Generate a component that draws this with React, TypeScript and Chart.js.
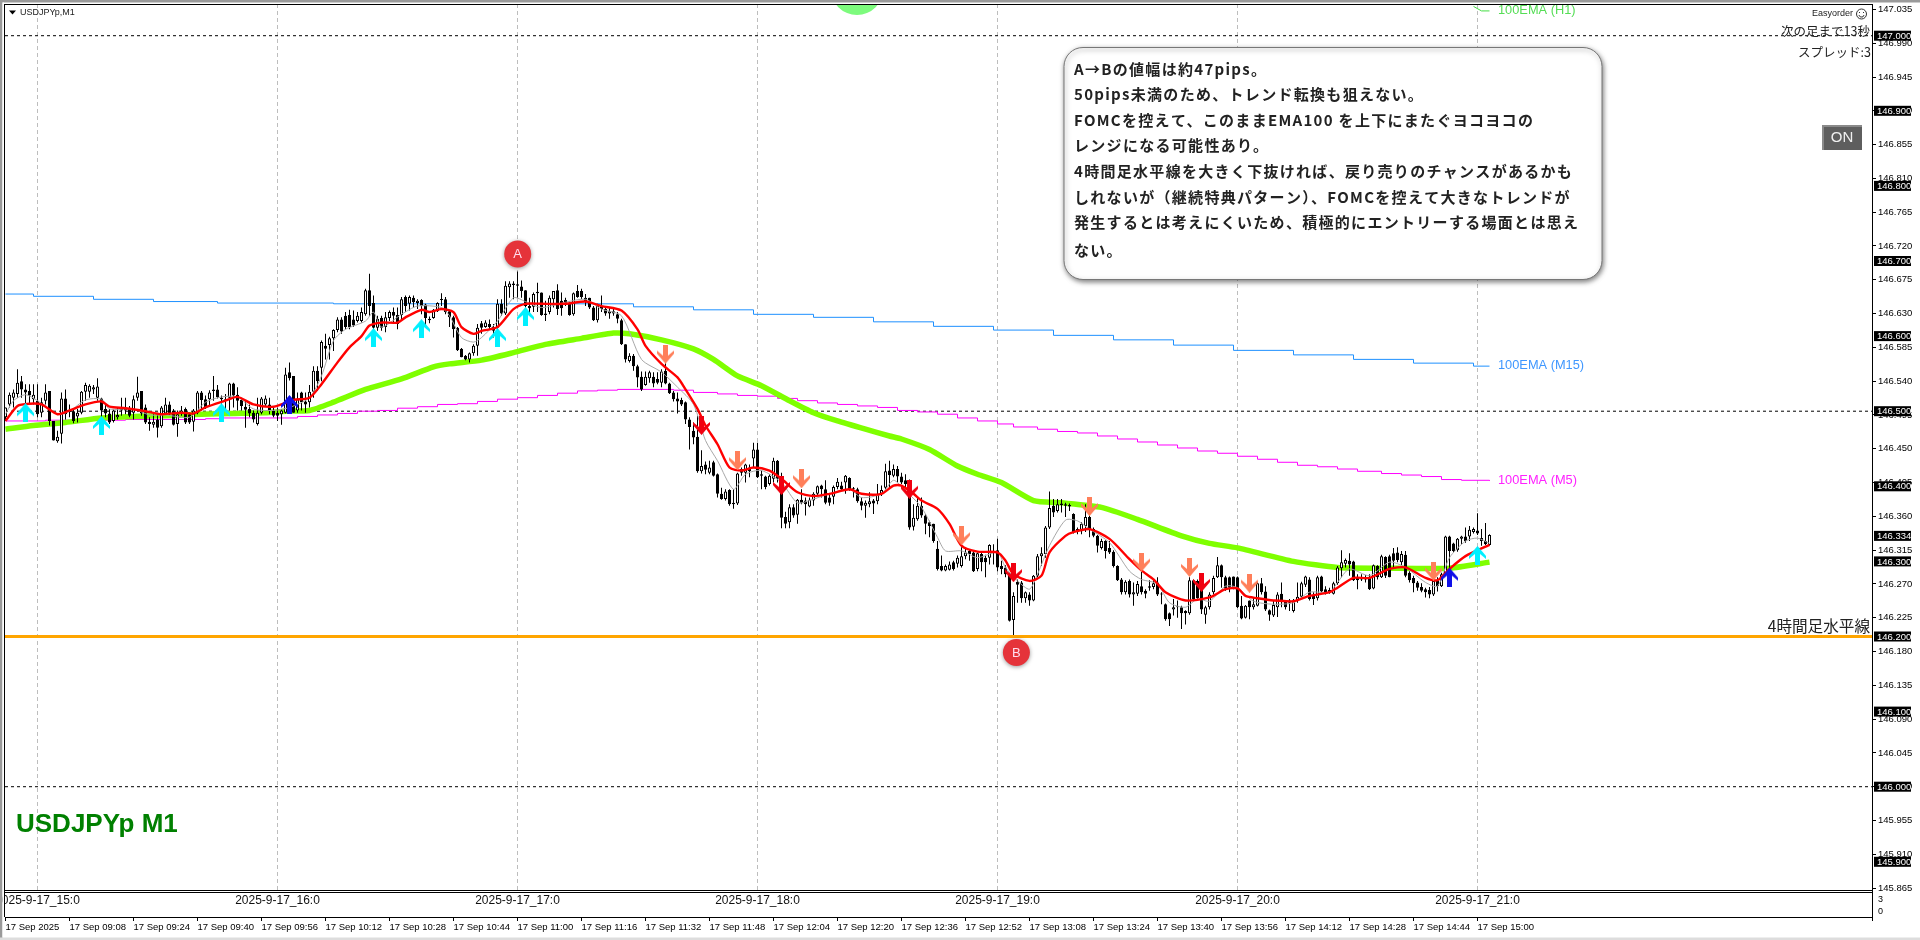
import React, { useEffect, useRef } from "react";
import { Chart, registerables } from "chart.js";

Chart.register(...registerables);

// All candle and line values are thousandths of a yen above 146.000
const BASE = 146;
const opens = [
492,509,518,523,540,529,527,516,514,498,514,527,487,460,470,517,499,500,493,498,
526,526,529,518,517,503,497,487,492,501,505,503,498,518,527,505,486,482,489,480,
497,509,501,483,497,503,496,486,498,525,516,516,527,529,516,516,518,537,522,515,
506,503,498,483,498,509,509,501,498,496,498,552,547,501,525,513,512,526,554,558,
587,588,597,608,622,627,628,622,620,620,629,661,644,611,624,612,624,632,628,628,
652,643,651,644,648,642,621,624,633,648,649,633,625,611,583,574,569,577,587,617,
612,616,612,611,643,630,665,668,669,666,661,640,639,657,658,630,632,649,661,647,
648,643,629,660,660,651,651,638,621,639,636,630,633,629,621,589,567,574,560,546,
535,544,546,543,538,554,537,525,517,515,512,489,474,466,420,429,418,432,416,390,
383,395,378,377,423,418,425,437,449,416,413,403,410,434,413,359,352,372,362,382,
381,373,381,390,401,396,385,386,399,401,405,411,397,396,380,374,376,381,380,390,
398,421,414,423,413,408,407,346,356,374,361,352,350,317,294,288,289,299,297,294,
307,314,312,290,310,305,305,314,315,294,292,283,222,273,272,251,256,248,281,307,
310,345,374,367,377,376,375,363,343,340,347,359,343,334,318,327,318,313,294,276,
259,274,256,257,267,261,265,266,272,257,243,231,236,240,239,234,231,275,274,272,
229,239,259,279,295,279,279,280,279,241,225,248,239,241,271,260,235,228,239,257,
247,248,234,248,253,269,276,256,251,280,263,262,257,271,291,297,301,300,279,276,
279,279,264,294,279,306,307,311,312,299,309,285,278,272,266,263,262,256,275,267,
282,333,324,315,330,333,333,339,341,331,327,322];
const closes = [
505,522,525,538,529,525,521,522,496,512,525,487,461,466,517,496,501,487,498,526,
535,534,532,533,501,497,485,501,495,503,501,494,516,525,497,485,483,486,478,505,
509,497,482,496,501,485,485,501,525,515,505,525,529,519,518,514,537,521,514,507,
502,497,489,498,517,517,500,494,494,501,549,544,498,516,512,509,526,554,540,592,
583,597,608,622,606,612,612,614,627,632,661,640,611,623,611,625,632,627,616,649,
640,652,645,647,640,624,623,635,644,649,632,625,609,581,572,569,577,587,611,611,
618,612,607,643,630,667,670,670,667,660,640,637,656,659,628,628,651,660,636,637,
642,628,657,652,652,646,638,621,640,636,630,633,630,623,589,569,574,560,545,529,
546,552,537,538,553,537,524,516,513,509,489,479,465,420,427,422,425,414,390,383,
393,376,376,417,418,429,420,449,412,414,399,414,434,410,358,350,372,361,382,378,
376,382,390,400,396,378,378,399,406,396,414,396,396,380,374,378,380,377,390,395,
420,415,423,413,405,403,345,358,374,361,350,347,327,290,288,294,296,290,305,307,
312,310,287,311,299,299,322,312,292,290,283,221,254,269,251,259,248,281,307,311,
345,371,365,376,375,374,373,339,339,350,359,343,334,321,327,314,312,294,275,259,
273,256,259,270,259,257,267,271,256,256,223,223,239,239,231,231,275,250,251,236,
239,256,278,295,279,264,265,264,239,224,241,239,243,271,259,236,229,242,256,248,
239,245,248,253,271,280,250,250,279,260,259,259,271,292,299,302,296,275,275,279,
276,263,295,279,307,281,279,301,302,310,281,275,271,265,261,259,256,274,267,283,
333,314,314,330,333,327,342,343,337,327,323,335];
const highs = [
505,525,529,556,547,536,536,536,536,518,536,527,487,474,525,529,509,503,503,527,
538,536,535,544,518,509,503,503,505,518,518,507,521,546,527,509,492,496,498,507,
518,513,503,501,507,505,498,503,527,527,521,528,547,535,521,523,538,538,532,518,
514,509,501,518,519,521,518,507,505,503,558,565,547,525,526,525,535,560,560,594,
603,599,609,625,625,632,635,634,632,638,663,683,654,627,627,632,634,638,638,652,
654,654,654,649,649,643,626,636,645,657,652,635,627,612,584,575,578,589,616,620,
621,622,616,649,649,673,673,673,686,674,661,651,658,671,658,647,654,660,669,658,
651,645,658,668,663,656,651,640,643,654,640,638,636,632,623,589,577,576,562,553,
553,554,552,552,556,565,538,527,525,518,513,492,485,494,448,433,434,434,417,398,
396,396,396,418,425,430,429,458,458,421,414,416,438,435,418,366,376,376,383,396,
385,385,392,401,402,408,390,401,411,406,415,412,399,398,385,381,392,383,403,401,
430,434,429,427,418,416,409,376,385,385,363,354,350,327,308,296,300,301,308,319,
318,316,314,312,314,309,323,323,330,301,295,284,259,276,274,260,259,282,310,319,
347,393,383,383,383,378,377,364,345,352,376,361,345,335,330,328,327,315,295,278,
275,276,272,274,288,263,275,276,279,259,244,232,250,248,241,235,279,276,276,274,
241,259,281,306,296,281,280,280,280,254,242,248,252,273,278,267,236,248,259,272,
248,250,250,272,273,281,279,259,281,281,267,265,273,294,315,304,311,301,283,283,
282,283,296,295,309,307,309,318,319,314,314,287,281,274,271,265,266,276,279,285,
334,334,325,331,334,345,347,345,364,343,351,336];
const lows = [
487,505,505,518,518,505,509,509,492,492,509,481,461,458,457,489,492,484,485,496,
514,518,523,514,492,492,483,485,489,494,496,492,489,514,494,483,474,478,465,478,
496,494,481,466,494,483,483,473,496,501,503,507,514,517,503,503,501,505,501,501,
478,492,485,481,496,507,496,492,487,482,497,541,498,498,501,498,505,518,527,540,
569,569,580,605,603,609,609,612,618,618,627,627,609,607,607,605,620,618,609,621,
632,634,638,636,629,611,617,623,632,640,629,612,598,580,572,568,565,574,574,603,
611,609,598,598,627,628,651,649,651,651,638,629,632,632,627,620,629,638,628,627,
640,627,627,651,649,640,636,620,618,632,627,623,627,617,588,565,565,554,532,527,
534,538,532,536,532,536,523,513,497,507,483,449,456,418,417,416,416,413,385,382,
381,374,370,375,414,405,412,425,411,396,396,401,405,405,344,344,344,358,350,376,
361,372,374,387,385,376,374,376,396,394,390,394,385,378,368,358,372,363,376,387,
395,398,412,405,403,396,342,341,354,358,336,332,325,288,287,287,288,288,292,292,
303,301,286,287,287,279,296,296,287,283,279,220,202,245,245,245,241,247,279,294,
305,343,359,365,365,359,367,337,336,336,339,332,332,312,316,304,310,292,274,256,
256,252,241,254,256,251,261,263,254,243,221,214,228,225,210,216,229,248,248,230,
217,236,256,278,265,261,259,263,238,223,224,223,236,240,256,234,221,226,226,239,
236,234,232,245,252,266,248,242,248,259,256,257,256,269,279,292,281,274,263,274,
272,262,263,276,278,278,279,292,299,295,279,272,259,261,259,252,251,254,260,266,
281,290,312,313,323,325,327,337,335,321,322,321];

const ema1Bars = [0,7,15,24,32,40,49,57,65,70,76,82,90,99,107,111,119,127,135,144,152,156,164,172,177,183,189,196,202,208,215,221,224,231,238,243,249,257,264,274,283,294,301,308,322,333,346,361,371];
const ema1Vals = [476,481,485,491,493,494,496,497,498,500,501,512,529,543,559,563,568,578,589,597,604,603,595,583,569,547,534,514,498,487,476,467,463,449,427,416,405,381,378,372,356,334,324,318,300,292,291,291,299];

const m15Bars = [0,7,22,37,53,82,157,172,187,202,217,232,247,262,277,292,307,322,337,352,367,371];
const m15Vals = [656,653,649,646,644,643,639,635,629,625,619,613,608,601,595,588,581,575,569,564,560,560];

const m5Bars = [0,10,30,50,54,73,78,83,88,93,98,103,108,113,118,123,128,133,138,143,148,153,167,172,178,183,188,193,198,203,208,213,218,223,228,233,238,243,248,252,258,263,268,273,278,283,288,293,298,303,308,313,318,323,328,333,338,344,349,354,359,364,371];
const m5Vals = [487,488,489,490,491,493,495,497,500,501,504,506,509,510,513,516,518,521,524,527,528,529,528,525,523,521,520,517,514,511,509,507,505,501,499,496,491,487,483,479,476,473,471,467,463,459,455,451,447,444,440,436,432,428,426,423,420,417,415,413,409,408,407];

const h1Bars = [367,369,371];
const h1Vals = [1039,1033,1033];

const redBars = [0,3,6,9,13,16,20,24,26,30,35,39,44,47,50,55,58,62,67,72,76,79,83,86,89,91,94,98,100,104,106,109,112,114,117,119,123,127,130,134,140,145,149,154,158,160,164,168,170,173,175,178,181,184,187,191,194,198,202,206,211,214,219,222,224,227,229,233,236,239,243,248,250,252,256,259,261,265,267,271,276,281,284,287,290,295,301,305,308,310,313,317,322,326,331,333,337,341,346,350,355,358,361,365,371];
const redVals = [487,507,510,509,496,501,509,513,506,504,500,496,498,497,505,514,519,509,506,515,518,536,565,585,600,614,618,618,625,635,632,636,632,612,603,607,612,636,643,643,643,646,640,634,609,587,563,545,529,503,481,456,425,421,425,421,410,392,387,390,396,390,390,401,401,390,381,370,350,321,313,312,301,283,274,281,312,334,339,343,330,303,288,276,259,248,252,263,264,254,251,248,247,254,259,265,278,278,290,292,278,275,290,307,322];

const grayBars = [0,2,5,8,13,16,20,24,26,32,36,40,46,50,54,58,62,67,71,76,79,82,85,90,92,94,99,103,109,111,114,117,119,123,127,130,134,140,145,149,154,159,164,168,172,175,178,182,185,189,194,198,202,206,211,214,219,222,225,229,233,235,239,243,248,250,253,256,258,261,265,268,271,276,281,284,288,291,295,298,301,305,308,312,317,322,326,331,333,336,341,346,350,355,358,361,365,368,371];
const grayVals = [496,514,522,514,496,500,515,516,503,503,495,495,492,512,519,519,503,501,505,518,547,594,609,620,632,612,629,640,638,627,598,592,598,620,651,646,638,645,649,636,627,569,552,532,509,461,434,396,416,421,405,378,383,390,396,385,390,408,394,372,332,314,314,305,312,292,274,263,283,321,355,354,343,325,287,276,270,245,239,250,247,267,265,247,243,245,259,259,272,290,281,299,292,272,267,305,327,331,324];

const cyanBars = [5,24,54,92,104,123,130,368];
const cyanVals = [498,481,498,598,610,598,626,308];
const blueBars = [71,361];
const blueVals = [509,279];
const coralBars = [165,183,199,239,271,284,296,311,357];
const coralVals = [576,434,410,334,373,299,292,271,287];
const redArrowBars = [174,194,226,252,299];
const redArrowVals = [481,401,396,285,272];

const levelLines = [147, 146.5, 146];
const fourHourLevel = 146.2;

const yTicks = [147.035,146.99,146.945,146.9,146.855,146.81,146.765,146.72,146.675,146.63,146.585,146.54,146.495,146.45,146.405,146.36,146.315,146.27,146.225,146.18,146.135,146.09,146.045,146,145.955,145.91,145.865];
const boxedPrices = [147,146.9,146.8,146.7,146.6,146.5,146.4,146.334,146.3,146.2,146.1,146,145.9];

const hourBars = [8,68,128,188,248,308,368];
const hourLabels = ["2025-9-17_15:0","2025-9-17_16:0","2025-9-17_17:0","2025-9-17_18:0","2025-9-17_19:0","2025-9-17_20:0","2025-9-17_21:0"];
const dateBars = [0,16,32,48,64,80,96,112,128,144,160,176,192,208,224,240,256,272,288,304,320,336,352,368];
const dateLabels = ["17 Sep 2025","17 Sep 09:08","17 Sep 09:24","17 Sep 09:40","17 Sep 09:56","17 Sep 10:12","17 Sep 10:28","17 Sep 10:44","17 Sep 11:00","17 Sep 11:16","17 Sep 11:32","17 Sep 11:48","17 Sep 12:04","17 Sep 12:20","17 Sep 12:36","17 Sep 12:52","17 Sep 13:08","17 Sep 13:24","17 Sep 13:40","17 Sep 13:56","17 Sep 14:12","17 Sep 14:28","17 Sep 14:44","17 Sep 15:00"];

const noteLines = ["A→Bの値幅は約47pips。","50pips未満のため、トレンド転換も狙えない。","FOMCを控えて、このままEMA100 を上下にまたぐヨコヨコの","レンジになる可能性あり。","4時間足水平線を大きく下抜ければ、戻り売りのチャンスがあるかも","しれないが（継続特典パターン）、FOMCを控えて大きなトレンドが","発生するとは考えにくいため、積極的にエントリーする場面とは思え","ない。"];
const noteLineY = [69.5,94,120,145.5,171.5,197,222.5,250];

const price = (v: number) => BASE + v / 1000;
const pts = (xs: number[], ys: number[]) => xs.map((x, i) => ({ x, y: price(ys[i]) }));

function arrow(color: string, up: boolean) {
  const c = document.createElement("canvas");
  c.width = 17;
  c.height = 19;
  const g = c.getContext("2d")!;
  if (!up) { g.translate(0, 19); g.scale(1, -1); }
  g.fillStyle = color;
  g.beginPath();
  [[8.5,0],[17,10],[17,13],[11,8],[11,19],[6,19],[6,8],[0,13],[0,10]].forEach(([x,y],i)=> i ? g.lineTo(x,y) : g.moveTo(x,y));
  g.closePath();
  g.fill();
  return c;
}

const SANS = '"Liberation Sans", sans-serif';
const JP = '"Noto Sans CJK JP", sans-serif';

const overlay = {
  id: "overlay",
  beforeDraw(chart: any) {
    const { ctx } = chart;
    ctx.save();
    ctx.fillStyle = "#fff";
    ctx.fillRect(0, 0, 1920, 940);
    ctx.restore();
  },
  afterDraw(chart: any) {
    const { ctx, scales } = chart;
    const y = scales.y;
    const text = (s: string, x: number, yy: number, font: string, color: string, align: CanvasTextAlign = "left") => {
      ctx.font = font; ctx.fillStyle = color; ctx.textAlign = align; ctx.textBaseline = "middle";
      ctx.fillText(s, x, yy);
    };
    ctx.save();
    // green half disc at the top edge
    ctx.save();
    ctx.beginPath(); ctx.rect(5, 4, 1867, 40); ctx.clip();
    ctx.fillStyle = "#7dfb7d";
    ctx.beginPath(); ctx.arc(857, -11, 26, 0, Math.PI * 2); ctx.fill();
    ctx.restore();

    // note box
    ctx.save();
    ctx.shadowColor = "rgba(0,0,0,0.5)"; ctx.shadowBlur = 5; ctx.shadowOffsetX = 1; ctx.shadowOffsetY = 2;
    ctx.fillStyle = "#fff"; ctx.strokeStyle = "#777"; ctx.lineWidth = 1;
    ctx.beginPath(); ctx.roundRect(1064, 47.5, 538, 232, 19); ctx.fill(); ctx.stroke();
    ctx.restore();
    ctx.letterSpacing = "1.3px";
    noteLines.forEach((s, i) => text(s, 1074, noteLineY[i], `bold 15px ${JP}`, "#222"));
    ctx.letterSpacing = "0px";

    // A / B badges
    const badge = (s: string, cx: number, cy: number) => {
      ctx.save();
      ctx.shadowColor = "rgba(0,0,0,0.4)"; ctx.shadowBlur = 4; ctx.shadowOffsetY = 1;
      ctx.fillStyle = "#e5333a";
      ctx.beginPath(); ctx.arc(cx, cy, 13.5, 0, Math.PI * 2); ctx.fill();
      ctx.restore();
      text(s, cx, cy + 0.5, `13px ${SANS}`, "#fde", "center");
    };
    badge("A", 517.7, 254);
    badge("B", 1016.4, 652.5);

    // line labels
    text("100EMA (H1)", 1498, 10, `12.8px ${SANS}`, "#55dd55");
    text("100EMA (M15)", 1498, 365.5, `12.8px ${SANS}`, "#3f97ff");
    text("100EMA (M5)", 1498, 480, `12.8px ${SANS}`, "#ff22ff");

    text("USDJPYp M1", 16, 825, `bold 26px ${SANS}`, "#008000");
    text("4時間足水平線", 1870, 626.5, `15.6px ${JP}`, "#222", "right");

    // header texts
    ctx.fillStyle = "#000";
    ctx.beginPath(); ctx.moveTo(9, 10.5); ctx.lineTo(16, 10.5); ctx.lineTo(12.5, 14.5); ctx.closePath(); ctx.fill();
    text("USDJPYp,M1", 20, 12.5, `9px ${SANS}`, "#222");
    text("Easyorder", 1853, 14, `9px ${SANS}`, "#222", "right");
    ctx.strokeStyle = "#333"; ctx.lineWidth = 1;
    ctx.beginPath(); ctx.arc(1861.5, 14, 5, 0, Math.PI * 2); ctx.stroke();
    ctx.beginPath(); ctx.arc(1861.5, 14.5, 2.6, 0.2, Math.PI - 0.2); ctx.stroke();
    ctx.fillStyle = "#333"; ctx.fillRect(1859, 12, 1, 1); ctx.fillRect(1863, 12, 1, 1);
    text("次の足まで13秒", 1870, 31, `12.5px ${JP}`, "#222", "right");
    text("スプレッド:3", 1871, 52, `12.5px ${JP}`, "#222", "right");

    // ON button
    ctx.fillStyle = "#5e5e5e"; ctx.fillRect(1822, 125, 40, 25);
    ctx.fillStyle = "#8a8a8a"; ctx.fillRect(1822, 125, 40, 2); ctx.fillRect(1822, 125, 2, 25);
    text("ON", 1842, 138, `15px ${SANS}`, "#f0f0f0", "center");

    // boxed price labels
    boxedPrices.forEach((p) => {
      const py = y.getPixelForValue(p);
      ctx.fillStyle = "#000"; ctx.fillRect(1874, py - 5, 37, 10);
      text(p.toFixed(3), 1877, py + 0.5, `9.5px ${SANS}`, "#fff");
    });

    // frame and window chrome
    ctx.fillStyle = "#000";
    ctx.fillRect(4, 4, 1868, 1);
    ctx.fillRect(4, 4, 1, 913);
    ctx.fillRect(1872, 4, 1, 917);
    ctx.fillRect(4, 892, 1868, 1);
    ctx.fillStyle = "#9a9a9a";
    ctx.fillRect(0, 0, 1920, 2.5);
    ctx.fillRect(0, 0, 2.5, 940);
    ctx.fillStyle = "#fff";
    ctx.fillRect(2.5, 2.5, 1.5, 935);
    ctx.fillStyle = "#ddd";
    ctx.fillRect(0, 937.5, 1920, 2.5);
    text("3", 1878, 900, `9px ${SANS}`, "#000");
    text("0", 1878, 912, `9px ${SANS}`, "#000");
    ctx.restore();
  },
};

const zeroPadding = (s: any) => { s.paddingLeft = 0; s.paddingRight = 0; s.paddingTop = 0; s.paddingBottom = 0; };

export default function App() {
  const ref = useRef<HTMLCanvasElement>(null);
  useEffect(() => {
    const bars = opens.map((_, i) => i);
    const lineBase = { type: "line" as const, pointRadius: 0, fill: false, xAxisID: "x", yAxisID: "y" };
    const marks = (data: any, style: any, order: number) => ({
      ...lineBase, data, showLine: false, pointStyle: style, pointRadius: 9, order,
    });
    const chart = new Chart(ref.current!, {
      type: "bar",
      data: {
        datasets: [
          marks(pts(cyanBars, cyanVals), arrow("#00f0ff", true), 0),
          marks(pts(blueBars, blueVals), arrow("#1010e8", true), 0),
          marks(pts(coralBars, coralVals), arrow("#ff7f5a", false), 0),
          marks(pts(redArrowBars, redArrowVals), arrow("#f00010", false), 0),
          { ...lineBase, data: pts(redBars, redVals), borderColor: "#ff0000", borderWidth: 2.4, tension: 0.25, order: 1 },
          { ...lineBase, data: pts(grayBars, grayVals), borderColor: "#a8a8a8", borderWidth: 1, tension: 0.25, order: 2 },
          {
            type: "bar" as const, grouped: false, barThickness: 3, minBarLength: 1, order: 3,
            data: bars.map((i) => ({ x: i, y: [price(Math.min(opens[i], closes[i])), price(Math.max(opens[i], closes[i]))] })),
            backgroundColor: bars.map((i) => (closes[i] >= opens[i] ? "#ffffff" : "#000000")),
            borderColor: "#000", borderWidth: 1, borderSkipped: false, inflateAmount: 0,
          },
          {
            type: "bar" as const, grouped: false, barThickness: 1, order: 4,
            data: bars.map((i) => ({ x: i, y: [price(lows[i]), price(highs[i])] })),
            backgroundColor: "#000", borderWidth: 0, inflateAmount: 0,
          },
          { ...lineBase, data: pts(ema1Bars, ema1Vals), borderColor: "#7fff00", borderWidth: 5.5, tension: 0.2, order: 5 },
          { ...lineBase, data: pts(m15Bars, m15Vals), borderColor: "#1e90ff", borderWidth: 1, stepped: true, order: 6 },
          { ...lineBase, data: pts(m5Bars, m5Vals), borderColor: "#ff00ff", borderWidth: 1, stepped: true, order: 6 },
          { ...lineBase, data: pts(h1Bars, h1Vals), borderColor: "#44dd44", borderWidth: 1, order: 6 },
          { ...lineBase, data: [{ x: -0.125, y: fourHourLevel }, { x: 466.625, y: fourHourLevel }], borderColor: "#ffa500", borderWidth: 3, order: 6 },
          ...levelLines.map((l) => ({
            ...lineBase, data: [{ x: -0.125, y: l }, { x: 466.625, y: l }], borderColor: "#000", borderWidth: 1, borderDash: [3, 3], order: 7,
          })),
        ],
      } as any,
      options: {
        animation: false,
        responsive: false,
        devicePixelRatio: 1,
        layout: { autoPadding: false, padding: { left: 5, top: 4, right: 0, bottom: 0 } },
        plugins: { legend: { display: false }, tooltip: { enabled: false } },
        scales: {
          x: {
            type: "linear", position: "bottom", offset: false, min: -0.125, max: 466.625, weight: 0,
            afterBuildTicks: (s: any) => { s.ticks = hourBars.map((value) => ({ value })); },
            afterFit: (s: any) => { s.height = 27; zeroPadding(s); },
            grid: { offset: false, color: "#bdbdbd", drawTicks: false, tickLength: 0 },
            border: { display: true, color: "#000", dash: [4, 3] },
            ticks: {
              autoSkip: false, maxRotation: 0, padding: 3, color: "#111",
              font: { family: "Liberation Sans", size: 12 },
              callback: (v: any) => hourLabels[hourBars.indexOf(Number(v))] ?? "",
            },
          },
          x2: {
            type: "linear", position: "bottom", offset: false, min: -0.125, max: 466.625, weight: 1,
            afterBuildTicks: (s: any) => { s.ticks = dateBars.map((value) => ({ value })); },
            afterFit: (s: any) => { s.height = 23; zeroPadding(s); },
            grid: { offset: false, color: "#000", drawOnChartArea: false, tickLength: 4 },
            border: { display: true, color: "#000" },
            ticks: {
              autoSkip: false, maxRotation: 0, padding: 1, align: "start", color: "#000",
              font: { family: "Liberation Sans Narrow, Liberation Sans", size: 9.5 },
              callback: (v: any) => dateLabels[dateBars.indexOf(Number(v))] ?? "",
            },
          },
          y: {
            type: "linear", position: "right",
            min: 147 - (890 - 35.7) / 751, max: 147 + (35.7 - 4) / 751,
            afterBuildTicks: (s: any) => { s.ticks = yTicks.map((value) => ({ value })); },
            afterFit: (s: any) => { s.width = 48; zeroPadding(s); },
            grid: { color: "#000", drawOnChartArea: false, tickLength: 4 },
            border: { display: true, color: "#000" },
            ticks: {
              autoSkip: false, padding: 2, color: "#000",
              font: { family: "Liberation Sans", size: 9.5 },
              callback: (v: any) => Number(v).toFixed(3),
            },
          },
        },
      } as any,
      plugins: [overlay],
    });
    return () => chart.destroy();
  }, []);
  return (
    <canvas
      ref={ref}
      width={1920}
      height={940}
      style={{ position: "fixed", left: 0, top: 0, width: 1920, height: 940, display: "block" }}
    />
  );
}
